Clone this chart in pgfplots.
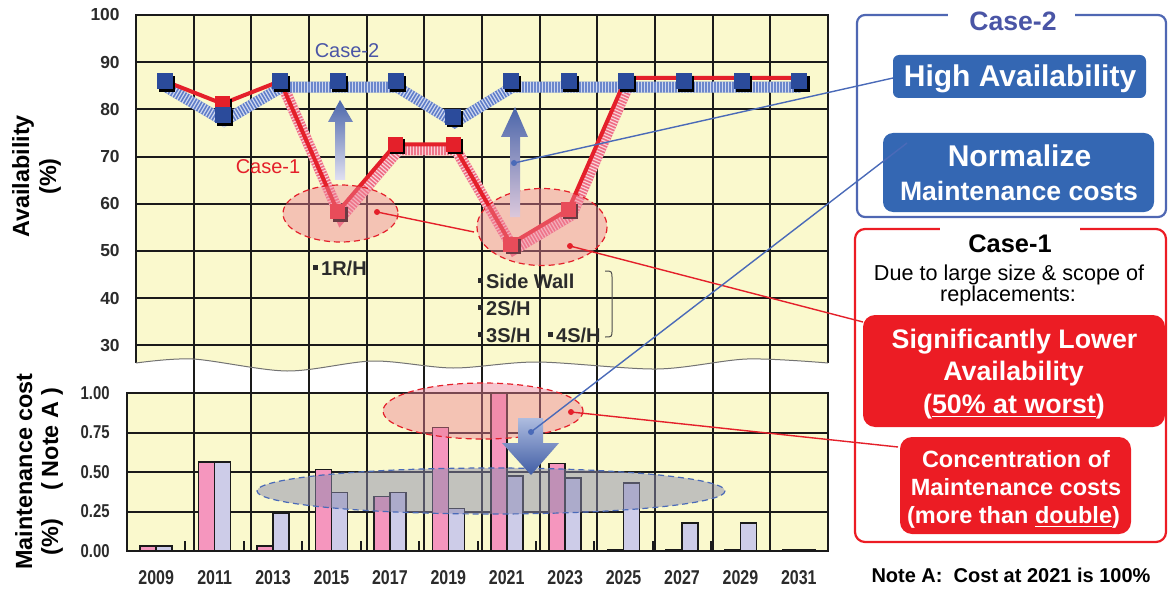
\documentclass[border=0pt]{standalone}
\usepackage{fontspec}
\setmainfont{Liberation Sans}
\newfontfamily\narrowfont[FakeStretch=0.8]{Liberation Sans}
\usepackage{pgfplots}
\pgfplotsset{compat=1.18}

\definecolor{ylw}{HTML}{FAF9CD}
\definecolor{barpink}{HTML}{F596BE}
\definecolor{barlav}{HTML}{CDCCE8}
\definecolor{mblue}{HTML}{2B4B9B}
\definecolor{mred}{HTML}{E4202A}
\definecolor{bandblue}{HTML}{5E7CC8}
\definecolor{bandred}{HTML}{EE6A80}
\definecolor{boxblue}{HTML}{3467B3}
\definecolor{boxred}{HTML}{EC1C24}
\definecolor{frameblue}{HTML}{4F67B3}
\definecolor{txtblue}{HTML}{4A55A6}
\definecolor{lineblue}{HTML}{4A6AB8}
\definecolor{gridc}{HTML}{1A1A1A}
\definecolor{tickc}{HTML}{2B2B2B}
\definecolor{ellpink}{HTML}{EE8296}
\definecolor{ellgray}{HTML}{8C8CAF}

\begin{document}
\begin{tikzpicture}[x=0.5bp,y=-0.5bp]
\path[use as bounding box] (0,0) rectangle (1168,589);

% yellow background of the upper panel with wavy bottom
\fill[ylw] (136,15) -- (828,15) -- plot[smooth] coordinates {(828,363)(747,359)(657,369)(537,362)(453,368)(373,361)(287,371)(193,359)(136,363)} -- cycle;

% ---------- lower panel: maintenance cost ----------
\begin{axis}[
  at={(63.5bp,-275.5bp)}, anchor=south west,
  scale only axis, width=350.5bp, height=79bp,
  xmin=2008, xmax=2032, ymin=0, ymax=1,
  axis background/.style={fill=ylw},
  axis line style={draw=gridc, line width=1bp},
  ybar=0pt, bar width=8bp,
  xtick={2009,2011,...,2031},
  xticklabels={2009,2011,2013,2015,2017,2019,2021,2023,2025,2027,2029,2031},
  ytick={0,0.25,0.5,0.75,1},
  yticklabels={0.00,0.25,0.50,0.75,1.00},
  major tick length=0pt,
  tick pos=left,
  xticklabel style={font=\narrowfont\bfseries\fontsize{10bp}{12bp}\selectfont, text=tickc, anchor=north, inner sep=0pt, yshift=-9.5bp},
  yticklabel style={font=\narrowfont\bfseries\fontsize{9.3bp}{11bp}\selectfont, text=tickc, anchor=east, inner sep=0pt, xshift=-8.5bp},
  /pgf/number format/assume math mode=true,
]
% horizontal grid and short boundary ticks
\pgfplotsinvokeforeach{0.25,0.5,0.75}{
  \draw[gridc, line width=1bp] (axis cs:2008,#1) -- (axis cs:2032,#1);
}
\pgfplotsinvokeforeach{2010,2012,2014,2016,2018,2020,2022,2024,2026,2028,2030}{
  \draw[gridc, line width=1bp] (axis cs:#1,0) -- (axis cs:#1,0.063);
}
\addplot[fill=barpink, draw=gridc, line width=0.8bp] coordinates {
 (2009,0.03)(2011,0.565)(2013,0.03)(2015,0.517)(2017,0.344)(2019,0.783)
 (2021,1.0)(2023,0.555)(2025,0.008)(2027,0.008)(2029,0.008)(2031,0.008)};
\addplot[fill=barlav, draw=gridc, line width=0.8bp] coordinates {
 (2009,0.03)(2011,0.565)(2013,0.24)(2015,0.371)(2017,0.371)(2019,0.27)
 (2021,0.475)(2023,0.464)(2025,0.432)(2027,0.179)(2029,0.179)(2031,0.008)};
\end{axis}

% ---------- upper panel: availability ----------
\begin{axis}[
  at={(68bp,-275.5bp)}, anchor=south west,
  scale only axis, width=346bp, height=268bp,
  xmin=2008, xmax=2032, ymin=-13.56, ymax=100,
  axis line style={draw=none},
  xtick={2010,2012,...,2030}, xticklabels={},
  ytick={30,40,...,100}, yticklabels={30,40,50,60,70,80,90,100},
  major tick length=0pt,
  yticklabel style={font=\bfseries\fontsize{8.7bp}{10bp}\selectfont, text=tickc, anchor=east, inner sep=0pt, xshift=-8bp},
  /pgf/number format/assume math mode=true,
  clip=false,
]
% grid lines
\pgfplotsinvokeforeach{2010,2012,2014,2016,2018,2020,2022,2024,2026,2028,2030}{
  \draw[gridc, line width=1bp] (axis cs:#1,-13.56) -- (axis cs:#1,100);
}
\pgfplotsinvokeforeach{30,40,50,60,70,80,90}{
  \draw[gridc, line width=1bp] (axis cs:2008,#1) -- (axis cs:2032,#1);
}
% hatched bands (Case-1 then Case-2)
\addplot[bandred, line width=5.5bp, xshift=1.5bp, yshift=-2.8bp] coordinates {
 (2013,86)(2015,58.3)(2017,72.6)(2019,72.6)(2021,51.5)(2023,58.8)(2025,86.7)};
\addplot[white, opacity=0.7, line width=5.5bp, dash pattern=on 0.6bp off 0.9bp, xshift=1.5bp, yshift=-2.8bp] coordinates {
 (2013,86)(2015,58.3)(2017,72.6)(2019,72.6)(2021,51.5)(2023,58.8)(2025,86.7)};
\addplot[bandblue, line width=5.5bp, xshift=0.8bp, yshift=-3bp] coordinates {
 (2009,86)(2011,78.8)(2013,86)(2015,86)(2017,86)(2019,78.5)(2021,86)(2023,86)(2025,86)(2027,86)(2029,86)(2031,86)};
\addplot[white, opacity=0.7, line width=5.5bp, dash pattern=on 0.6bp off 0.9bp, xshift=0.8bp, yshift=-3bp] coordinates {
 (2009,86)(2011,78.8)(2013,86)(2015,86)(2017,86)(2019,78.5)(2021,86)(2023,86)(2025,86)(2027,86)(2029,86)(2031,86)};
% Case-1 line
\addplot[mred, line width=2bp] coordinates {
 (2009,86)(2011,81.2)(2013,86)(2015,58.3)(2017,72.6)(2019,72.6)(2021,51.5)(2023,58.8)(2025,86.7)(2027,86.7)(2029,86.7)(2031,86.7)};
% Case-1 markers
\addplot[only marks, mark=square*, mark size=3.5bp, black, xshift=1.1bp, yshift=-1.2bp] coordinates {
 (2011,81.2)(2015,58.3)(2017,72.6)(2019,72.6)(2021,51.5)(2023,58.8)};
\addplot[only marks, mark=square*, mark size=3.5bp, mred] coordinates {
 (2011,81.2)(2015,58.3)(2017,72.6)(2019,72.6)(2021,51.5)(2023,58.8)};
% Case-2 markers
\addplot[only marks, mark=square*, mark size=3.75bp, black, xshift=1.1bp, yshift=-1.2bp] coordinates {
 (2009,86)(2011,78.8)(2013,86)(2015,86)(2017,86)(2019,78.5)(2021,86)(2023,86)(2025,86)(2027,86)(2029,86)(2031,86)};
\addplot[only marks, mark=square*, mark size=3.75bp, mblue] coordinates {
 (2009,86)(2011,78.8)(2013,86)(2015,86)(2017,86)(2019,78.5)(2021,86)(2023,86)(2025,86)(2027,86)(2029,86)(2031,86)};
\end{axis}

% frame and wave of upper panel
\draw[gridc, line width=1bp] (136,363) -- (136,15) -- (828,15) -- (828,363);
\draw[black!55, line width=0.5bp] plot[smooth] coordinates {(828,363)(747,359)(657,369)(537,362)(453,368)(373,361)(287,371)(193,359)(136,363)};

% axis titles
\begin{scope}[font=\bfseries\fontsize{11.7bp}{14bp}\selectfont]
\node[rotate=90, anchor=base] at (29,176.5) {Availability};
\node[rotate=90, anchor=base] at (56,176.5) {(\%)};
\node[rotate=90, anchor=base] at (32,471.5) {Maintenance cost};
\node[rotate=90, anchor=base] at (58,471.5) {(\%)\hspace{14bp}(\hspace{3bp}Note A\hspace{3bp})};
\end{scope}

% in-plot texts
\node[txtblue, font=\fontsize{10bp}{12bp}\selectfont] at (347,51) {Case-2};
\node[mred, font=\fontsize{10bp}{12bp}\selectfont] at (268,167) {Case-1};
\begin{scope}[font=\bfseries\fontsize{10bp}{12bp}\selectfont, tickc]
\node[anchor=base west, inner sep=0pt] at (313,275) {\rule[2.6bp]{2.2bp}{2.2bp}\,1R/H};
\node[anchor=base west, inner sep=0pt] at (478,288) {\rule[2.6bp]{2.2bp}{2.2bp}\,Side Wall};
\node[anchor=base west, inner sep=0pt] at (478,315) {\rule[2.6bp]{2.2bp}{2.2bp}\,2S/H};
\node[anchor=base west, inner sep=0pt] at (478,342) {\rule[2.6bp]{2.2bp}{2.2bp}\,3S/H};
\node[anchor=base west, inner sep=0pt] at (548,342) {\rule[2.6bp]{2.2bp}{2.2bp}\,4S/H};
\end{scope}
\draw[black!70, line width=0.5bp] (605,271) .. controls (612,271) .. (612,279) -- (612,330) .. controls (612,337) .. (605,337);

% ellipses
\fill[ellpink, opacity=0.45] (340.5,213.5) ellipse [x radius=57.5, y radius=28.5];
\draw[mred, line width=0.6bp, dash pattern=on 3bp off 2bp] (340.5,213.5) ellipse [x radius=57.5, y radius=28.5];
\fill[ellpink, opacity=0.45] (542,227) ellipse [x radius=65, y radius=38.5];
\draw[mred, line width=0.6bp, dash pattern=on 3bp off 2bp] (542,227) ellipse [x radius=65, y radius=38.5];
\fill[ellpink, opacity=0.45] (483,411) ellipse [x radius=100, y radius=28];
\draw[mred, line width=0.6bp, dash pattern=on 3bp off 2bp] (483,411) ellipse [x radius=100, y radius=28];
\fill[ellgray, opacity=0.5] (491,491) ellipse [x radius=234, y radius=23];
\draw[lineblue, line width=0.6bp, dash pattern=on 3bp off 2bp] (491,491) ellipse [x radius=234, y radius=23];

% gradient arrows
\shade[top color=mblue!85, bottom color=barlav!60] (335,180) -- (335,122) -- (328,122) -- (340,100) -- (353,122) -- (345,122) -- (345,180) -- cycle;
\shade[top color=mblue!85, bottom color=barlav!70!pink] (510,217) -- (510,137) -- (501,137) -- (515,107) -- (528,137) -- (520,137) -- (520,217) -- cycle;
\shade[top color=lineblue!45, bottom color=mblue!90] (518,418) -- (543,418) -- (543,443) -- (559,443) -- (531,475) -- (502,443) -- (518,443) -- cycle;

% right panel: Case-2
\draw[frameblue, line width=1.1bp, rounded corners=4bp] (857,15) rectangle (1166,217);
\fill[white] (948,5) rectangle (1075,25);
\node[txtblue, font=\bfseries\fontsize{13.3bp}{16bp}\selectfont, anchor=base] at (1013,31) {Case-2};
\fill[boxblue, rounded corners=3bp] (893,55) rectangle (1146,98);
\node[white, font=\bfseries\fontsize{15bp}{18bp}\selectfont, anchor=base] at (1020,87) {High Availability};
\fill[boxblue, rounded corners=5bp] (883,133) rectangle (1154,212);
\node[white, font=\bfseries\fontsize{15bp}{18bp}\selectfont, anchor=base] at (1019.5,167) {Normalize};
\node[white, font=\bfseries\fontsize{13.3bp}{16bp}\selectfont, anchor=base] at (1019,200) {Maintenance costs};

% right panel: Case-1
\draw[boxred, line width=1.1bp, rounded corners=5bp] (855,229) rectangle (1166,542);
\fill[white] (940,220) rectangle (1080,238);
\node[black, font=\bfseries\fontsize{12.7bp}{15bp}\selectfont, anchor=base] at (1010,252) {Case-1};
\node[black, font=\fontsize{10.8bp}{13bp}\selectfont, anchor=base] at (1009,280) {Due to large size \& scope of};
\node[black, font=\fontsize{10.8bp}{13bp}\selectfont, anchor=base] at (1008,301) {replacements:};
\fill[boxred, rounded corners=6bp] (863,315) rectangle (1165,427);
\begin{scope}[white, font=\bfseries\fontsize{13.4bp}{16bp}\selectfont]
\node[anchor=base] at (1014.5,348) {Significantly Lower};
\node[anchor=base] at (1013.5,380) {Availability};
\node[anchor=base] at (1014,413) {(\underline{50\% at worst})};
\end{scope}
\fill[boxred, rounded corners=6bp] (900,437) rectangle (1131,534);
\begin{scope}[white, font=\bfseries\fontsize{11.75bp}{14bp}\selectfont]
\node[anchor=base] at (1016,467) {Concentration of};
\node[anchor=base] at (1016,495) {Maintenance costs};
\node[anchor=base] at (1013.5,523) {(more than \underline{double})};
\end{scope}
\node[black, font=\bfseries\fontsize{10bp}{12bp}\selectfont, anchor=base] at (1011,582) {Note A:\ \ Cost at 2021 is 100\%};

% leader lines
\draw[mred, line width=0.7bp] (377,212) -- (474,232);
\draw[mred, line width=0.7bp] (570,246) -- (863,322);
\draw[mred, line width=0.7bp] (571,412) -- (898,447);
\fill[mred] (377,212) circle [radius=3];
\fill[mred] (570,246) circle [radius=3];
\fill[mred] (571,412) circle [radius=3];
\draw[lineblue, line width=0.7bp] (514,163) -- (893,78);
\draw[lineblue, line width=0.7bp] (531,432) -- (907,143);
\fill[lineblue] (514,163) circle [radius=3];
\fill[lineblue] (531,432) circle [radius=3];
\end{tikzpicture}
\end{document}
